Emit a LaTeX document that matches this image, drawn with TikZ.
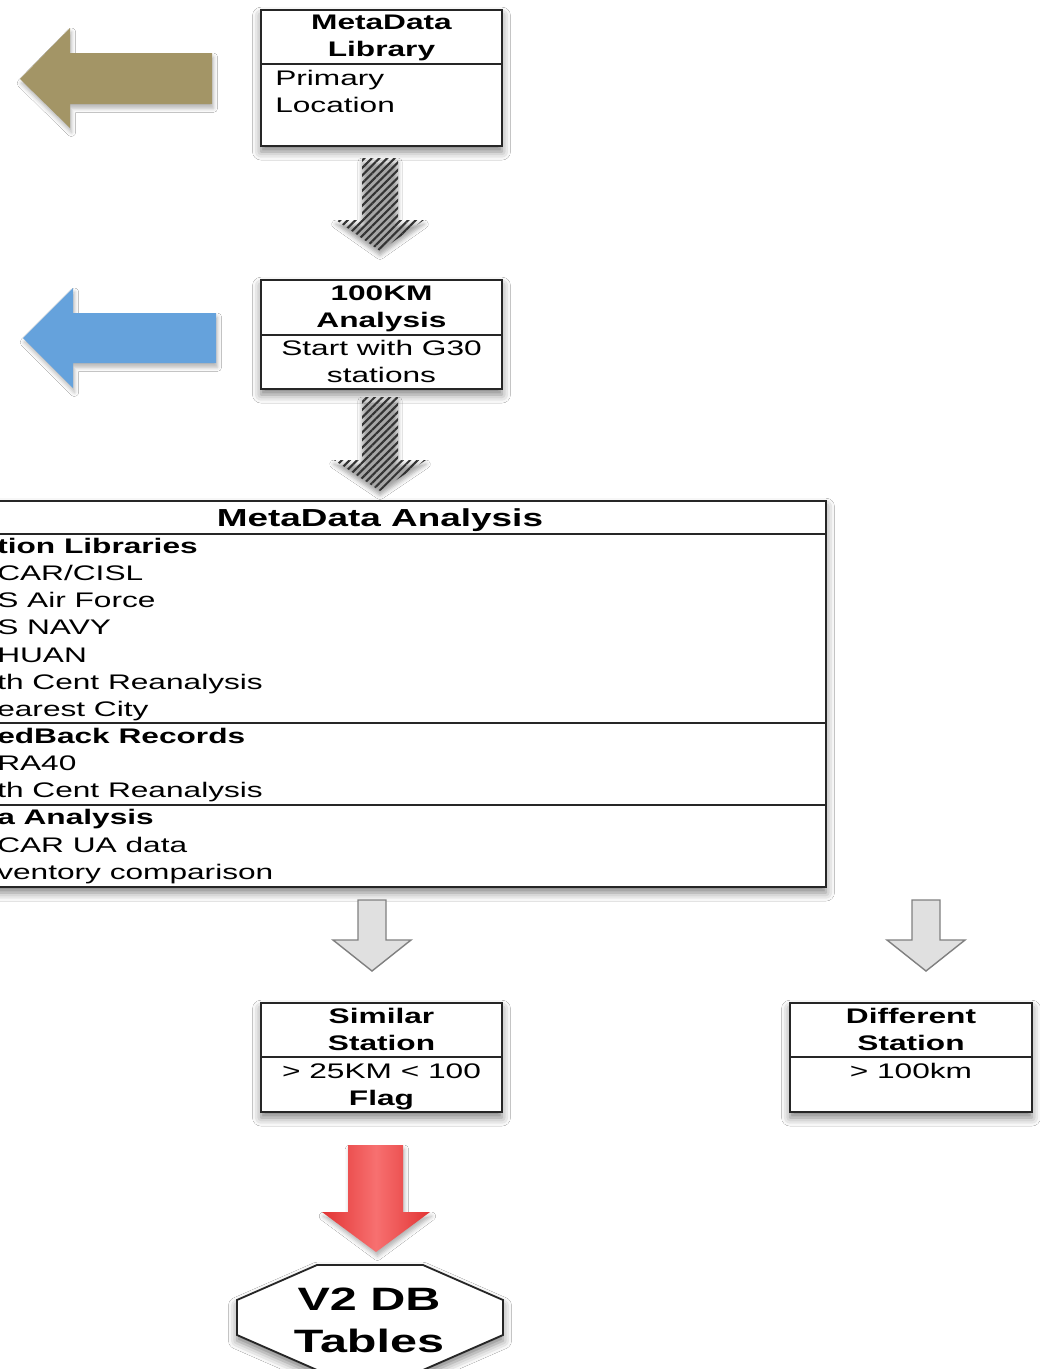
\documentclass[tikz,border=0pt]{standalone}
\usepackage{fontspec}
\setmainfont[FakeStretch=1.5]{Liberation Sans}
\usetikzlibrary{shadows.blur,patterns.meta}

\definecolor{arrowolive}{RGB}{163,149,102}
\definecolor{arrowblue}{RGB}{101,162,220}
\definecolor{arrowred}{RGB}{226,52,52}
\definecolor{arrowpink}{RGB}{247,112,112}

\newcommand{\pxu}{0.025cm}

\tikzset{
    box/.style={draw=black!85, line width=1.3pt, fill=white,
        blur shadow={shadow xshift=0pt, shadow yshift=-4pt, shadow blur radius=6pt, shadow opacity=50}},
    boxsize/.style 2 args={minimum width=#1*\pxu, minimum height=#2*\pxu, inner sep=0pt},
    rule/.style={draw=black!85, line width=1.3pt},
    hdr/.style={font=\bfseries\fontsize{15pt}{19.2pt}\selectfont, align=center, inner sep=0pt, anchor=north},
    txt/.style={font=\fontsize{15pt}{19.2pt}\selectfont, inner sep=0pt},
    hatcharrow/.style={pattern={Lines[angle=45,distance=3.8pt,line width=1.5pt]}, pattern color=black!80,
        blur shadow={shadow xshift=0pt, shadow yshift=-3pt, shadow blur radius=3pt, shadow opacity=35}},
    grayarrow/.style={fill=black!12, draw=black!50, line width=1pt, line join=miter},
    sidearrow/.style={blur shadow={shadow xshift=1pt, shadow yshift=-3pt, shadow blur radius=3pt, shadow opacity=30}}
}

\begin{document}
\begin{tikzpicture}[x=\pxu, y=-\pxu]
        % Cadre
            \useasboundingbox (0,0) rectangle (1040,1369);
            \fill[white] (0,0) rectangle (1040,1369);
            \clip (0,0) rectangle (1040,1369);
        % Fleches laterales
            \fill[arrowolive, sidearrow] (212,53) -- (70,53) -- (70,28) -- (20,79) -- (70,128) -- (70,104) -- (212,104) -- cycle;
            \fill[arrowblue, sidearrow] (216,313) -- (73,313) -- (73,288) -- (23,338) -- (73,388) -- (73,363) -- (216,363) -- cycle;
        % MetaData Library
            \node[box, boxsize={241}{136}] (lib) at (381.5,78) {};
            \draw[rule] (261,64) -- (502,64);
            \node[hdr] (libT) at (381.5,15) {MetaData\\Library};
            \node[txt, anchor=north west, align=left] (libB) at (275,70) {Primary\\Location};
        % Fleche hachuree 1
            \path[hatcharrow] (362,158) -- (398,158) -- (398,220) -- (424,220) -- (380,251) -- (336,220) -- (362,220) -- cycle;
        % 100KM Analysis
            \node[box, boxsize={241}{109}] (km) at (381.5,334.5) {};
            \draw[rule] (261,335) -- (502,335);
            \node[hdr] (kmT) at (381.5,285) {100KM\\Analysis};
            \node[txt, anchor=north, align=center] (kmB) at (381.5,340) {Start with G30\\stations};
        % Fleche hachuree 2
            \path[hatcharrow] (362,397) -- (398,397) -- (398,460) -- (426,460) -- (380,491) -- (334,460) -- (362,460) -- cycle;
        % MetaData Analysis
            \node[box, boxsize={892}{386}] (meta) at (380,694) {};
            \draw[rule] (-66,534) -- (826,534); % titre
            \draw[rule] (-66,723) -- (826,723); % FeedBack
            \draw[rule] (-66,805) -- (826,805); % Analysis
            \node[hdr, font=\bfseries\fontsize{17.5pt}{21pt}\selectfont] (metaT) at (380,508) {MetaData Analysis};
            \node[txt, anchor=north west, align=left, font=\fontsize{15pt}{19.3pt}\selectfont] (metaB) at (-3,538)
                {\textbf{tion Libraries}\\CAR/CISL\\S Air Force\\S NAVY\\HUAN\\th Cent Reanalysis\\earest City\\%
                 \textbf{edBack Records}\\RA40\\th Cent Reanalysis\\%
                 \textbf{a Analysis}\\CAR UA data\\ventory comparison};
        % Fleches grises
            \draw[grayarrow] (358,900) -- (386,900) -- (386,940) -- (411,940) -- (372,971) -- (333,940) -- (358,940) -- cycle;
            \draw[grayarrow] (912,900) -- (940,900) -- (940,940) -- (965,940) -- (926,971) -- (887,940) -- (912,940) -- cycle;
        % Similar Station
            \node[box, boxsize={241}{109}] (sim) at (381.5,1057.5) {};
            \draw[rule] (261,1057) -- (502,1057);
            \node[hdr] (simT) at (381.5,1008) {Similar\\Station};
            \node[txt, anchor=north, align=center] (simB) at (381.5,1063) {> 25KM < 100\\\textbf{Flag}};
        % Different Station
            \node[box, boxsize={242}{109}] (diff) at (911,1057.5) {};
            \draw[rule] (790,1057) -- (1032,1057);
            \node[hdr] (diffT) at (911,1008) {Different\\Station};
            \node[txt, anchor=north] (diffB) at (911,1063) {> 100km};
        % Fleche rouge
            \path[left color=arrowred, right color=arrowred, middle color=arrowpink, sidearrow]
                (348,1145) -- (403,1145) -- (403,1212) -- (430,1212) -- (376,1252) -- (322,1212) -- (348,1212) -- cycle;
        % V2 DB
            \draw[box] (317,1265) -- (423,1265) -- (503,1300) -- (503,1335) -- (423,1370) -- (317,1370) -- (237,1335) -- (237,1300) -- cycle;
            \node[hdr, font=\bfseries\fontsize{23pt}{29.8pt}\selectfont] (v2db) at (369,1288) {V2 DB\\Tables};
     \end{tikzpicture}
\end{document}
